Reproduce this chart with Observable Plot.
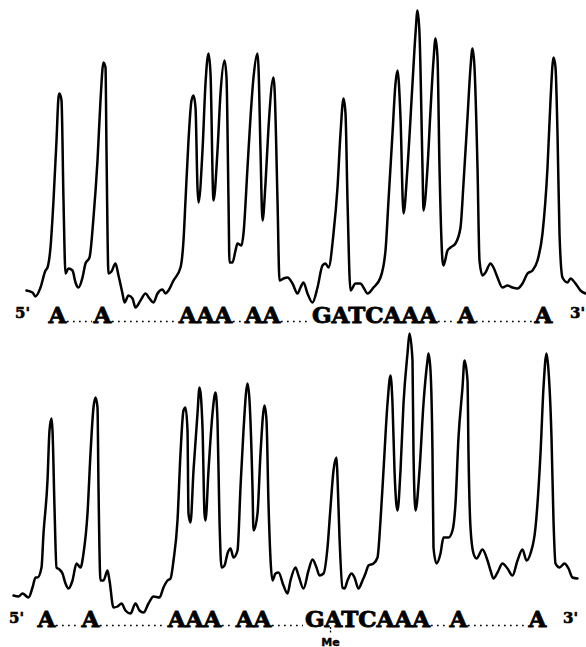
<!DOCTYPE html>
<html><head><meta charset="utf-8">
<script src="https://cdn.jsdelivr.net/npm/d3@7"></script>
<script src="https://cdn.jsdelivr.net/npm/@observablehq/plot@0.6"></script>
<style>
html,body{margin:0;padding:0;background:#fff;}
#chart{width:586px;height:647px;overflow:hidden;}
#chart svg{display:block;background:#fff;}
</style></head><body><div id="chart"></div>
<script>
// Densitometer trace, upper lane: [migration position, optical density]
const topTrace = [[26,10],[32,8],[35,4],[40,13],[45,30],[47,33],[50,53],[53,100],[56,160],[58,203],[59,207],[61,200],[63,100],[65,27],[68,32],[72,30],[75,18],[78,13],[82,23],[85,37],[89,43],[93,83],[97,140],[100,200],[103,238],[105,233],[106,150],[108,27],[111,29],[115,37],[118,25],[122,7],[124,-2],[128,5],[132,2],[135,-7],[140,0],[145,7],[149,2],[153,-2],[157,7],[162,11],[165,7],[168,10],[173,20],[180,33],[183,60],[185,100],[188,160],[191,200],[193,205],[195,193],[197,113],[198,98],[202,150],[205,217],[208,247],[210,227],[213,100],[217,150],[220,207],[224,240],[226,223],[228,100],[229,38],[232,38],[235,50],[237,57],[241,55],[243,67],[247,133],[250,183],[253,223],[257,247],[258,233],[260,150],[262,80],[265,117],[268,173],[273,223],[274,213],[277,100],[279,20],[283,22],[287,23],[292,17],[297,7],[300,13],[303,18],[307,7],[312,-2],[317,13],[322,35],[325,37],[328,33],[333,67],[337,113],[340,167],[343,202],[345,187],[347,100],[350,10],[355,17],[360,17],[363,13],[367,7],[373,13],[380,23],[385,50],[388,100],[392,167],[395,217],[397,230],[400,183],[403,87],[407,133],[412,217],[415,267],[417,290],[419,267],[422,133],[423,90],[427,133],[430,190],[433,240],[435,262],[437,243],[439,133],[442,40],[443,35],[447,50],[450,53],[455,57],[460,73],[463,117],[467,183],[470,233],[472,252],[474,233],[477,133],[479,40],[482,25],[485,28],[490,37],[493,33],[497,23],[502,13],[507,15],[512,13],[517,12],[522,17],[527,27],[532,30],[537,40],[542,67],[547,133],[550,200],[553,243],[555,233],[557,167],[559,67],[562,23],[567,18],[570,22],[575,17],[580,10],[585,7]];

// Densitometer trace, lower lane (methylated): [migration position, optical density]
const bottomTrace = [[13,25],[18,24],[22,27],[28,23],[32,33],[35,43],[37,43],[41,53],[43,87],[47,140],[49,190],[51,202],[52,190],[54,113],[56,53],[59,51],[62,47],[65,37],[68,32],[72,40],[76,57],[80,53],[83,67],[87,107],[90,167],[93,213],[95,223],[97,213],[98,133],[100,40],[103,40],[107,50],[109,40],[113,13],[117,14],[121,17],[125,10],[130,7],[135,17],[139,10],[143,8],[148,17],[153,24],[159,23],[163,33],[167,40],[170,42],[173,60],[177,100],[180,167],[183,210],[185,213],[187,190],[188,107],[190,98],[193,150],[197,207],[199,233],[202,193],[204,107],[205,100],[208,150],[212,207],[215,228],[217,200],[219,100],[221,53],[224,55],[227,67],[230,72],[233,63],[237,70],[240,133],[243,190],[247,237],[249,220],[252,133],[253,90],[257,107],[260,167],[264,215],[266,200],[268,117],[272,40],[275,47],[278,48],[283,35],[287,27],[290,40],[295,53],[298,45],[303,32],[308,50],[312,61],[316,53],[319,45],[323,47],[327,73],[330,113],[333,150],[336,163],[337,143],[339,83],[342,33],[344,32],[347,40],[351,47],[354,43],[358,32],[362,40],[365,47],[368,55],[373,57],[377,63],[380,100],[383,150],[387,217],[390,245],[392,217],[394,150],[397,110],[400,150],[403,217],[407,267],[409,287],[412,260],[413,167],[415,110],[419,150],[423,217],[427,260],[428,267],[430,250],[432,167],[433,73],[436,57],[440,67],[443,83],[448,83],[452,90],[455,117],[458,183],[462,233],[464,260],[467,240],[468,167],[470,93],[473,67],[476,62],[482,71],[487,60],[490,50],[493,42],[497,48],[502,57],[507,52],[512,45],[517,60],[522,71],[526,60],[530,67],[535,93],[540,167],[543,233],[546,267],[548,250],[551,183],[553,100],[555,57],[559,53],[564,57],[568,52],[572,43],[577,42]];

// Sequence labels
const seqGroups = ["A", "A", "AAA", "AA", "GATCAAA", "A", "A"];
const topLabelPos = [57, 102, 205, 262, 374, 466, 543];
const bottomLabelPos = [46, 90, 194, 253, 367, 458, 537];
const endLabels = ["5'", "3'"];
const topEndPos = [22, 577];
const bottomEndPos = [16, 570];
const meLabel = "Me";
const meLabelPos = [330];
const meTickSpan = [-7, -14];

const letterW = 18;
function dotSegments(pos) {
  const out = [];
  for (let i = 0; i < pos.length - 1; i++) {
    out.push({
      x1: pos[i] + seqGroups[i].length * letterW / 2 + 1,
      x2: pos[i + 1] - seqGroups[i + 1].length * letterW / 2 - 1
    });
  }
  return out;
}

const seqFont = {fontFamily: "DejaVu Serif", fontWeight: "bold", fill: "#000", stroke: "#000", lineAnchor: "bottom", frameAnchor: "bottom"};

function panel({trace, labelPos, endPos, height, yMax, marginBottom, labelDy, endDy, dotDy, me}) {
  const data = trace.map(([pos, d]) => ({pos, d}));
  const labels = seqGroups.map((t, i) => ({t, x: labelPos[i]}));
  const ends = endLabels.map((t, i) => ({t, x: endPos[i]}));
  const marks = [
    Plot.line(data, {x: "pos", y: "d", curve: "monotone-x", stroke: "#000", strokeWidth: 2.5, strokeLinejoin: "round", strokeLinecap: "round"}),
    Plot.ruleY(dotSegments(labelPos), {x1: "x1", x2: "x2", y: 0, dy: dotDy, stroke: "#000", strokeWidth: 1.7, strokeDasharray: "1.7,4.3"}),
    Plot.text(labels, {...seqFont, x: "x", text: "t", dy: labelDy, fontSize: 23, strokeWidth: 0.9}),
    Plot.text(ends, {...seqFont, x: "x", text: "t", dy: endDy, fontSize: 15, strokeWidth: 0.6})
  ];
  if (me) {
    marks.push(Plot.ruleX(meLabelPos, {x: d => d, y1: meTickSpan[0], y2: meTickSpan[1], stroke: "#000", strokeWidth: 1.3, strokeDasharray: "2,1.5"}));
    marks.push(Plot.text(meLabelPos, {x: d => d, text: () => meLabel, frameAnchor: "bottom", dy: 25, lineAnchor: "bottom", fontFamily: "DejaVu Sans", fontWeight: "bold", fontSize: 11, fill: "#000", stroke: "#000", strokeWidth: 0.4}));
  }
  return Plot.plot({
    width: 586, height,
    marginTop: 0, marginLeft: 0, marginRight: 0, marginBottom,
    x: {domain: [0, 586], axis: null},
    y: {domain: [0, yMax], axis: null},
    style: {background: "#fff", overflow: "visible"},
    marks
  });
}

const chart = document.getElementById("chart");
chart.append(panel({trace: topTrace, labelPos: topLabelPos, endPos: topEndPos, height: 328, yMax: 300, marginBottom: 28, labelDy: 22, endDy: 17, dotDy: 21, me: false}));
chart.append(panel({trace: bottomTrace, labelPos: bottomLabelPos, endPos: bottomEndPos, height: 319, yMax: 292, marginBottom: 27, labelDy: 6, endDy: 2, dotDy: 5, me: true}));
</script></body></html>
